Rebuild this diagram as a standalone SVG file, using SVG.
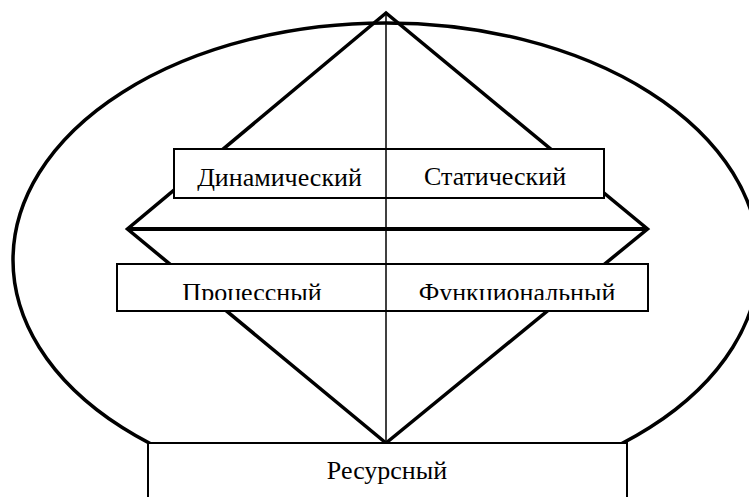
<svg xmlns="http://www.w3.org/2000/svg" width="749" height="497" viewBox="0 0 749 497">
<style>
.box{fill:#fff;stroke:#000;stroke-width:2}
.lbl{font-family:'Liberation Serif','DejaVu Serif','Times New Roman',serif;font-size:26px;fill:#000;text-anchor:middle}
.thick{fill:none;stroke:#000;stroke-width:3.5;stroke-linejoin:miter;stroke-miterlimit:10}
.thin{stroke:#000;stroke-width:1.5}
</style>
<defs>
<clipPath id="cl"><rect x="117" y="264" width="531" height="36"/></clipPath>
</defs>
<rect width="749" height="497" fill="#fff"/>
<ellipse id="outer" cx="386" cy="260" rx="373" ry="237" fill="none" stroke="#000" stroke-width="3.5"/>
<g id="connectors">
<polygon class="thick" points="386,13 127.5,229 386,443 647.5,229"/>
<line x1="127.5" y1="229" x2="647.5" y2="229" stroke="#000" stroke-width="4"/>
</g>
<g id="upper">
<rect class="box" x="174" y="149" width="430" height="49"/>
</g>
<g id="lower">
<rect class="box" x="117" y="264" width="531" height="47"/>
</g>
<g id="resource">
<rect class="box" x="148" y="443" width="479" height="70"/>
</g>
<g id="axis">
<line class="thin" x1="386" y1="13" x2="386" y2="443"/>
</g>
<g id="dynamic"><text class="lbl" font-family="Liberation Serif, serif" x="279.5" y="185.5">Динамический</text></g>
<g id="static"><text class="lbl" font-family="Liberation Serif, serif" x="495" y="185">Статический</text></g>
<g id="process" clip-path="url(#cl)"><text class="lbl" font-family="Liberation Serif, serif" x="252" y="301">Процессный</text></g>
<g id="functional" clip-path="url(#cl)"><text class="lbl" font-family="Liberation Serif, serif" x="517" y="301">Функциональный</text></g>
<g id="resursny"><text class="lbl" font-family="Liberation Serif, serif" x="387" y="479">Ресурсный</text></g>
</svg>
